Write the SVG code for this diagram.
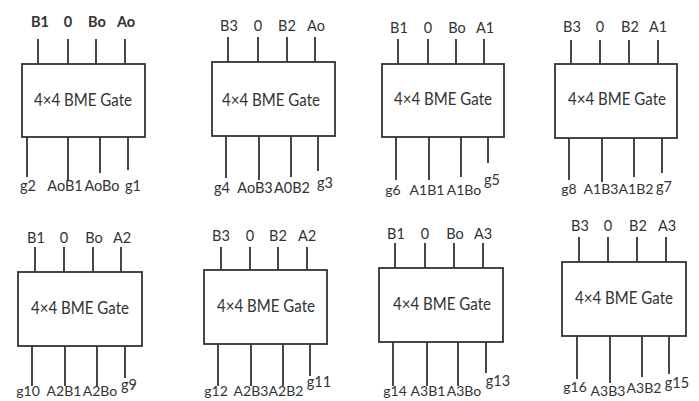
<svg xmlns="http://www.w3.org/2000/svg" width="699" height="401" viewBox="0 0 699 401">
<style>
.box{fill:#fff;stroke:#333;stroke-width:1.8}
.w{stroke:#333;stroke-width:1.8;fill:none}
.t{font-family:Lato,"Liberation Sans",sans-serif;font-size:17px;fill:#333;text-anchor:middle}
.l{font-family:Lato,"Liberation Sans",sans-serif;font-size:14.5px;fill:#333;text-anchor:middle}
.s{font-size:14px}
.b{font-weight:bold}
</style>
<rect width="699" height="401" fill="#fff"/>
<g id="connectors">
<path class="w" d="M38 39V64M68 39V64M96 39V64M125 39V64M27 137V177M68 137V180M100 137V173M128 137V170"/>
<path class="w" d="M228 37V62M258 37V62M287 37V62M315 37V62M226 136V178M259 136V180M291 136V177M318 136V171"/>
<path class="w" d="M398 39V64M428 39V64M456 39V64M484 39V64M396 137V180M429 137V180M461 137V177M488 137V163"/>
<path class="w" d="M571 40V64M600 40V64M629 40V64M658 40V64M569 138V180M602 138V182M634 138V177M662 138V173"/>
<path class="w" d="M35 247V272M64 247V272M93 247V272M121 247V272M32 346V386M65 346V386M97 346V386M125 346V378"/>
<path class="w" d="M221 247V270M250 247V270M278 247V270M307 247V270M218 344V386M251 344V386M283 344V386M310 344V376"/>
<path class="w" d="M395 243V268M425 243V268M454 243V268M483 243V268M393 342V386M427 342V386M458 342V386M486 342V373"/>
<path class="w" d="M579 237V262M608 237V262M637 237V262M666 237V262M577 336V379M610 336V383M642 336V377M669 336V374"/>
</g>
<g id="gate1">
<rect class="box" x="22" y="64" width="123" height="73"/>
<text class="t" x="83" y="106" textLength="98" lengthAdjust="spacingAndGlyphs">4×4 BME Gate</text>
<text class="l b" x="40" y="27">B1</text><text class="l b" x="68" y="27">0</text><text class="l b" x="97" y="27">Bo</text><text class="l b" x="126" y="27">Ao</text>
<text class="l" x="28" y="191">g2</text><text class="l" x="65" y="191">AoB1</text><text class="l" x="102" y="191">AoBo</text><text class="l" x="133" y="191">g1</text>
</g>
<g id="gate2">
<rect class="box" x="212" y="62" width="123" height="74"/>
<text class="t" x="271" y="106" textLength="98" lengthAdjust="spacingAndGlyphs">4×4 BME Gate</text>
<text class="l" x="229" y="31">B3</text><text class="l" x="258" y="31">0</text><text class="l" x="287" y="31">B2</text><text class="l" x="316" y="31">Ao</text>
<text class="l" x="222" y="193">g4</text><text class="l" x="255" y="193">AoB3</text><text class="l" x="292" y="193">A0B2</text><text class="l" x="325" y="188">g3</text>
</g>
<g id="gate3">
<rect class="box" x="382" y="64" width="122" height="73"/>
<text class="t" x="443" y="105" textLength="98" lengthAdjust="spacingAndGlyphs">4×4 BME Gate</text>
<text class="l" x="399" y="33">B1</text><text class="l" x="428" y="33">0</text><text class="l" x="457" y="33">Bo</text><text class="l" x="485" y="33">A1</text>
<text class="l s" x="393" y="195">g6</text><text class="l s" x="427" y="195">A1B1</text><text class="l s" x="464" y="195">A1Bo</text><text class="l" x="492" y="185">g5</text>
</g>
<g id="gate4">
<rect class="box" x="555" y="64" width="122" height="74"/>
<text class="t" x="617" y="105" textLength="98" lengthAdjust="spacingAndGlyphs">4×4 BME Gate</text>
<text class="l" x="572" y="32">B3</text><text class="l" x="600" y="32">0</text><text class="l" x="630" y="32">B2</text><text class="l" x="658" y="32">A1</text>
<text class="l s" x="569" y="194">g8</text><text class="l s" x="601" y="194">A1B3</text><text class="l s" x="636" y="194">A1B2</text><text class="l" x="664" y="192">g7</text>
</g>
<g id="gate5">
<rect class="box" x="18" y="272" width="124" height="74"/>
<text class="t" x="80" y="314" textLength="98" lengthAdjust="spacingAndGlyphs">4×4 BME Gate</text>
<text class="l" x="36" y="243">B1</text><text class="l" x="64" y="243">0</text><text class="l" x="94" y="243">Bo</text><text class="l" x="122" y="243">A2</text>
<text class="l s" x="28" y="396">g10</text><text class="l s" x="64" y="396">A2B1</text><text class="l s" x="100" y="396">A2Bo</text><text class="l" x="129" y="390">g9</text>
</g>
<g id="gate6">
<rect class="box" x="204" y="270" width="123" height="74"/>
<text class="t" x="266" y="312" textLength="98" lengthAdjust="spacingAndGlyphs">4×4 BME Gate</text>
<text class="l" x="221" y="241">B3</text><text class="l" x="250" y="241">0</text><text class="l" x="278" y="241">B2</text><text class="l" x="307" y="241">A2</text>
<text class="l s" x="216" y="396">g12</text><text class="l s" x="251" y="396">A2B3</text><text class="l s" x="286" y="396">A2B2</text><text class="l" x="319" y="387">g11</text>
</g>
<g id="gate7">
<rect class="box" x="379" y="268" width="124" height="74"/>
<text class="t" x="442" y="310" textLength="98" lengthAdjust="spacingAndGlyphs">4×4 BME Gate</text>
<text class="l" x="396" y="239">B1</text><text class="l" x="425" y="239">0</text><text class="l" x="455" y="239">Bo</text><text class="l" x="483" y="239">A3</text>
<text class="l s" x="395" y="396">g14</text><text class="l s" x="428" y="396">A3B1</text><text class="l s" x="464" y="396">A3Bo</text><text class="l" x="498" y="386">g13</text>
</g>
<g id="gate8">
<rect class="box" x="562" y="262" width="124" height="74"/>
<text class="t" x="624" y="304" textLength="98" lengthAdjust="spacingAndGlyphs">4×4 BME Gate</text>
<text class="l" x="580" y="231">B3</text><text class="l" x="608" y="231">0</text><text class="l" x="638" y="231">B2</text><text class="l" x="667" y="231">A3</text>
<text class="l s" x="575" y="392">g16</text><text class="l s" x="608" y="396">A3B3</text><text class="l s" x="644" y="393">A3B2</text><text class="l" x="677" y="388">g15</text>
</g>
</svg>
